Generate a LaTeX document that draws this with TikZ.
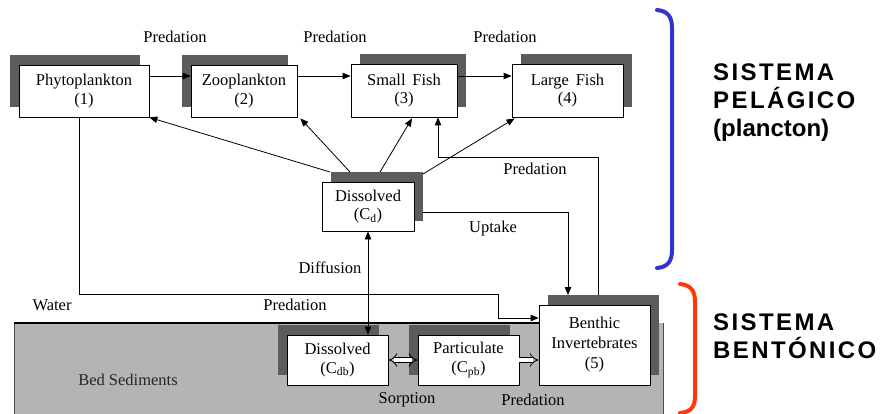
\documentclass[tikz,border=0pt]{standalone}
\usepackage{fontspec}
\setmainfont{Liberation Serif}
\newfontfamily\capsfont[LetterSpace=10]{Liberation Sans}
\newfontfamily\plainsans{Liberation Sans}
\usetikzlibrary{arrows.meta,shadows}

\definecolor{sedgray}{RGB}{180,180,180}
\definecolor{shadowgray}{RGB}{92,92,92}
\definecolor{pelblue}{RGB}{52,52,204}
\definecolor{benred}{RGB}{255,56,10}

\begin{document}
\begin{tikzpicture}[x=1pt,y=-1pt,
  box/.style={draw, fill=white, line width=0.8pt, align=center, inner sep=0pt,
    font=\fontsize{16.5}{18.5}\selectfont},
  shl/.style={general shadow={fill=shadowgray, shadow xshift=-9pt, shadow yshift=10pt}},
  shr/.style={general shadow={fill=shadowgray, shadow xshift=9pt, shadow yshift=10pt}},
  lbl/.style={inner sep=0pt, font=\fontsize{16.5}{18.5}\selectfont},
  arr/.style={line width=0.8pt, -{Triangle[length=8pt,width=6.5pt]}},
  dbl/.style={line width=0.8pt, {Triangle[length=8pt,width=6.5pt]}-{Triangle[length=8pt,width=6.5pt]}},
  hollow/.style={line width=0.8pt, double=white, double distance=4pt},
  syscaps/.style={anchor=base west, inner sep=0pt, font=\capsfont\fontsize{24}{28}\selectfont\bfseries},
  syslow/.style={anchor=base west, inner sep=0pt, font=\plainsans\fontsize{24}{28}\selectfont\bfseries},
  brace/.style={line width=4pt, line cap=round}
]
\useasboundingbox (0,0) rectangle (883,414);

% bed sediment layer
\fill[sedgray] (14,323) rectangle (663,416);
\draw[line width=0.6pt, black!70] (14,416) -- (14,323) (663,323) -- (663,416);
\draw[line width=2pt] (14,323) -- (545,323);

% pelagic compartments
\node[box, shl, minimum width=130pt, minimum height=52pt] (phyto) at (84,91) {Phytoplankton\\(1)};
\node[box, shl, minimum width=106pt, minimum height=52pt] (zoo) at (244,91) {Zooplankton\\(2)};
\node[box, shr, minimum width=106pt, minimum height=53pt] (small) at (404,90.5) {Small\,\ Fish\\(3)};
\node[box, shr, minimum width=111pt, minimum height=53pt] (large) at (567.5,90.5) {Large\,\ Fish\\(4)};
\node[box, shr, minimum width=92pt, minimum height=49pt] (cd) at (368,206.5) {Dissolved\\(C\textsubscript{d})};

% benthic compartments
\node[box, shr, minimum width=111pt, minimum height=80pt, font=\fontsize{16.5}{20}\selectfont] (benthic) at (594.5,345) {Benthic\\Invertebrates\\(5)};
\node[box, shl, minimum width=101pt, minimum height=50pt] (cdb) at (337.5,360) {Dissolved\\(C\textsubscript{db})};
\node[box, shl, minimum width=101pt, minimum height=50pt] (cpb) at (468.5,360) {Particulate\\(C\textsubscript{pb})};

% food chain
\draw[arr] (phyto.east |- 0,76) -- (zoo.west |- 0,76);
\draw[arr] (zoo.east |- 0,76) -- (small.west |- 0,76);
\draw[arr] (small.east |- 0,76) -- (large.west |- 0,76);
\node[lbl] (p1) at (175,37) {Predation};
\node[lbl] (p2) at (335,37) {Predation};
\node[lbl] (p3) at (505,37) {Predation};

% uptake from the dissolved phase
\coordinate (u1) at (330,172);
\coordinate (u2) at (350,172);
\coordinate (u3) at (380,172);
\coordinate (u4) at (423,174);
\draw[arr] (u1) -- (phyto.south east);
\draw[arr] (u2) -- ([shift={(3,1)}]zoo.south east);
\draw[arr] (u3) -- ([shift={(8,1)}]small.south);
\draw[arr] (u4) -- ([shift={(3,1)}]large.south west);

% benthic invertebrates eaten by small fish
\coordinate (bp) at (598,295);
\draw[arr] (bp) -- (598,157) -- (438,157) -- (small.south -| 438,0);
\node[lbl] (p4) at (535,169) {Predation};

% uptake by benthic invertebrates
\coordinate (ut) at (568,295);
\draw[arr] (423,212) -- (568,212) -- (ut);
\node[lbl] (lu) at (493,229) {Uptake};

% diffusion between water and pore water
\draw[dbl] (cd.south) -- (cd.south |- cdb.north);
\node[lbl] (ld) at (330,268) {Diffusion};

% phytoplankton settling to the benthos
\draw[arr] (phyto.south -| 79,0) -- (79,294) -- (498,294) -- (498,318) -- (benthic.west |- 0,318);
\node[lbl] (lw) at (52,305) {Water};
\node[lbl] (p5) at (295,305) {Predation};

% sorption and sediment ingestion
\draw[hollow, {Implies}-{Implies}] (cdb.east) -- (cpb.west);
\draw[hollow, -{Implies}] (cpb.east) -- (benthic.west |- cpb.east);
\node[lbl] (ls) at (407,400) {Sorption};
\node[lbl] (p6) at (533,400) {Predation};
\node[lbl, text=black!85] (lbs) at (128,380) {Bed Sediments};

% system brackets
\draw[brace, pelblue] (657,10) .. controls (668,11) and (672,17) .. (672,28)
  -- (672,250) .. controls (672,261) and (668,267) .. (657,268);
\draw[brace, benred] (680,284) .. controls (691,285) and (695,291) .. (695,302)
  -- (695,396) .. controls (695,407) and (691,412) .. (680,413);

\node[syscaps] (s1) at (713,81) {SISTEMA};
\node[syscaps] (s2) at (713,109) {PELÁGICO};
\node[syslow] (s3) at (713,137) {(plancton)};
\node[syscaps] (s4) at (713,330.5) {SISTEMA};
\node[syscaps] (s5) at (713,358.5) {BENTÓNICO};
\end{tikzpicture}
\end{document}
